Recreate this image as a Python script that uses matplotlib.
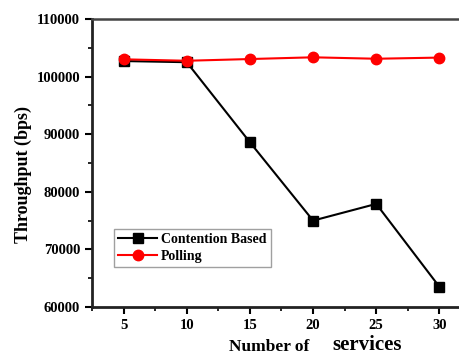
import matplotlib
matplotlib.use("Agg")
import matplotlib.pyplot as plt
from matplotlib.ticker import MultipleLocator

services = [5, 10, 15, 20, 25, 30]
contention = [102700, 102500, 88600, 75000, 77900, 63500]
polling = [103000, 102750, 103050, 103350, 103100, 103300]
xticks = [5, 10, 15, 20, 25, 30]
yticks = [60000, 70000, 80000, 90000, 100000, 110000]

plt.rcParams['font.family'] = ['Liberation Serif', 'DejaVu Serif']
plt.rcParams['font.weight'] = 'bold'

W, H = 460, 354
fig = plt.figure(figsize=(W/100, H/100), dpi=100)
left, right, top, bottom = 92, 471, 19, 307
ax = fig.add_axes([left/W, 1 - bottom/H, (right-left)/W, (bottom-top)/H])

ax.plot(services, contention, color='black', marker='s', markersize=6.5, lw=1.5,
        label='Contention Based', zorder=3)
ax.plot(services, polling, color='#ff0000', marker='o', markersize=7.5, lw=1.5,
        label='Polling', zorder=4)

ax.set_xlim(2.5, 32.5)
ax.set_ylim(60000, 110000)
ax.set_xticks(xticks)
ax.set_yticks(yticks)
ax.xaxis.set_minor_locator(MultipleLocator(2.5))
ax.yaxis.set_minor_locator(MultipleLocator(5000))
ax.tick_params(axis='both', which='major', direction='out', length=5, width=1.5,
               labelsize=10.5)
ax.tick_params(axis='both', which='minor', direction='out', length=3, width=1.2)
for lab in ax.get_xticklabels() + ax.get_yticklabels():
    lab.set_fontweight('bold')

for s in ['left', 'bottom']:
    ax.spines[s].set_linewidth(2)
    ax.spines[s].set_color('#222222')
ax.spines['top'].set_linewidth(1.8)
ax.spines['top'].set_color('#444444')
ax.spines['right'].set_linewidth(1.8)

ax.set_ylabel('Throughput (bps)', fontsize=13, fontweight='bold')
ax.yaxis.set_label_coords((32 - left)/(right-left), 1 - (175-top)/(bottom-top))

fig.text(269/W, 1 - 347/H, 'Number of', fontsize=12.5, fontweight='bold',
         ha='center', va='center')
fig.text(367/W, 1 - 345/H, 'services', fontsize=15, fontweight='bold',
         ha='center', va='center')

leg = ax.legend(loc='upper left', bbox_to_anchor=((114-left)/(right-left), 1 - (229-top)/(bottom-top)),
                fontsize=10, frameon=True, fancybox=False, edgecolor='#888888',
                borderpad=0.3, handlelength=2.8, handletextpad=0.3, labelspacing=0.3,
                borderaxespad=0)
leg.get_frame().set_linewidth(1.0)
for t in leg.get_texts():
    t.set_fontweight('bold')

fig.savefig('out.png', dpi=100)
